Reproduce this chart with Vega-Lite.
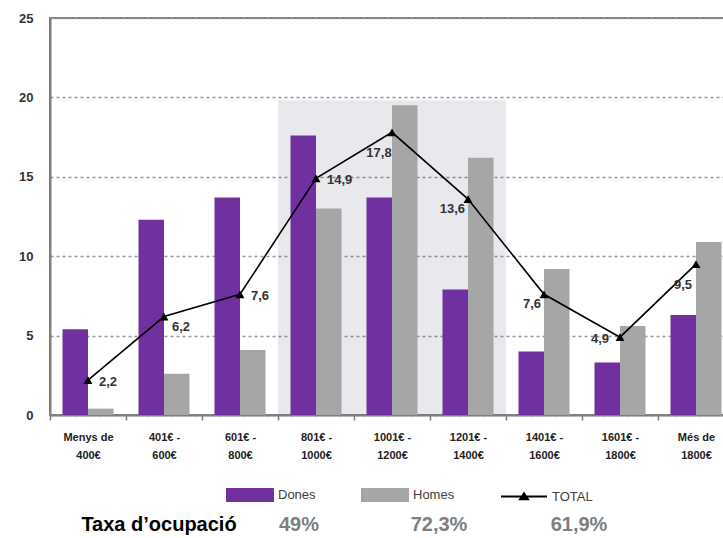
{
  "$schema": "https://vega.github.io/schema/vega-lite/v6.json",
  "width": 684,
  "height": 397,
  "autosize": {"type": "none"},
  "padding": {"left": 50, "top": 18, "right": 0, "bottom": 123},
  "background": "white",
  "config": {
    "locale": {"number": {"decimal": ",", "thousands": ".", "grouping": [3], "currency": ["", " €"]}},
    "view": {"stroke": "#7f7f7f", "strokeWidth": 2},
    "font": "Liberation Sans"
  },
  "datasets": {
    "inc": [
      {"cat": "Menys de 400€", "Dones": 5.4, "Homes": 0.4, "TOTAL": 2.2},
      {"cat": "401€ - 600€", "Dones": 12.3, "Homes": 2.6, "TOTAL": 6.2},
      {"cat": "601€ - 800€", "Dones": 13.7, "Homes": 4.1, "TOTAL": 7.6},
      {"cat": "801€ - 1000€", "Dones": 17.6, "Homes": 13.0, "TOTAL": 14.9},
      {"cat": "1001€ - 1200€", "Dones": 13.7, "Homes": 19.5, "TOTAL": 17.8},
      {"cat": "1201€ - 1400€", "Dones": 7.9, "Homes": 16.2, "TOTAL": 13.6},
      {"cat": "1401€ - 1600€", "Dones": 4.0, "Homes": 9.2, "TOTAL": 7.6},
      {"cat": "1601€ - 1800€", "Dones": 3.3, "Homes": 5.6, "TOTAL": 4.9},
      {"cat": "Més de 1800€", "Dones": 6.3, "Homes": 10.9, "TOTAL": 9.5}
    ],
    "taxa": [
      {"k": "label", "t": "Taxa d’ocupació"},
      {"k": "Dones", "t": "49%"},
      {"k": "Homes", "t": "72,3%"},
      {"k": "TOTAL", "t": "61,9%"}
    ]
  },
  "layer": [
    {
      "data": {"name": "inc"},
      "layer": [
        {
          "transform": [{"filter": {"field": "cat", "oneOf": ["801€ - 1000€", "1001€ - 1200€", "1201€ - 1400€"]}}],
          "mark": {"type": "bar", "color": "#3a3a5c", "opacity": 0.11},
          "encoding": {
            "x": {
              "field": "cat", "type": "nominal",
              "scale": {"domain": ["Menys de 400€", "401€ - 600€", "601€ - 800€", "801€ - 1000€", "1001€ - 1200€", "1201€ - 1400€", "1401€ - 1600€", "1601€ - 1800€", "Més de 1800€"], "paddingInner": 0, "paddingOuter": 0},
              "axis": {
                "title": null,
                "labelAngle": 0,
                "labelExpr": "!datum.label ? '' : datum.label == 'Menys de 400€' ? ['Menys de', '400€'] : datum.label == 'Més de 1800€' ? ['Més de', '1800€'] : indexof(datum.label, ' - ') < 0 ? '' : [split(datum.label, ' - ')[0] + ' -', split(datum.label, ' - ')[1]]",
                "labelFont": "Liberation Sans",
                "labelFontWeight": "bold",
                "labelFontSize": 11,
                "labelColor": "#222222",
                "labelLineHeight": 18,
                "labelPadding": 11,
                "tickBand": "extent",
                "tickSize": 5,
                "tickColor": "#7f7f7f",
                "tickWidth": 1.5,
                "domainColor": "#7f7f7f",
                "domainWidth": 2,
                "grid": false
              }
            },
            "y": {"datum": 19.8, "type": "quantitative"}
          }
        },
        {
          "transform": [{"fold": ["Dones", "Homes"], "as": ["series", "value"]}],
          "mark": {"type": "bar"},
          "encoding": {
            "x": {"field": "cat", "type": "nominal", "sort": null},
            "xOffset": {"field": "series", "type": "nominal", "scale": {"paddingInner": 0, "paddingOuter": 0.49}},
            "y": {
              "field": "value", "type": "quantitative",
              "scale": {"domain": [0, 25], "nice": false},
              "axis": {
                "title": null,
                "values": [0, 5, 10, 15, 20, 25],
                "grid": true,
                "labelFont": "Liberation Sans",
                "labelFontWeight": "bold",
                "labelFontSize": 13,
                "labelColor": "#333333",
                "labelPadding": 17,
                "ticks": false,
                "domainColor": "#7f7f7f",
                "domainWidth": 2,
                "gridColor": "#999999",
                "gridDash": [3, 3],
                "gridWidth": 1.6,
                "gridOpacity": 1
              }
            },
            "color": {
              "field": "series", "type": "nominal",
              "scale": {"domain": ["Dones", "Homes", "TOTAL"], "range": ["#7030a0", "#a6a6a6", "#000000"]},
              "legend": {
                "title": null,
                "orient": "none",
                "direction": "horizontal",
                "legendX": 176,
                "legendY": 453,
                "padding": 0,
                "labelFont": "Liberation Sans",
                "labelFontSize": 13,
                "labelColor": "#404040",
                "labelOffset": 4,
                "columnPadding": 42,
                "symbolSize": 2116,
                "symbolType": "M-1,-0.26H1V0.26H-1Z",
                "encode": {
                  "symbols": {
                    "update": {
                      "shape": {"signal": "datum.value === 'TOTAL' ? 'M-1,0H1M-0.17,0.12L0,-0.14L0.17,0.12Z' : 'M-1,-0.26H1V0.26H-1Z'"},
                      "fill": {"signal": "datum.value === 'TOTAL' ? '#000000' : (datum.value === 'Dones' ? '#7030a0' : '#a6a6a6')"},
                      "stroke": {"signal": "datum.value === 'TOTAL' ? '#000000' : 'transparent'"},
                      "strokeWidth": {"value": 2},
                      "opacity": {"value": 1},
                      "fillOpacity": {"value": 1},
                      "strokeOpacity": {"value": 1}
                    }
                  }
                }
              }
            }
          }
        },
        {
          "mark": {"type": "line", "strokeWidth": 1.6},
          "encoding": {
            "x": {"field": "cat", "type": "nominal", "sort": null},
            "y": {"field": "TOTAL", "type": "quantitative"},
            "color": {"datum": "TOTAL"}
          }
        },
        {
          "mark": {"type": "point", "shape": "triangle-up", "filled": true, "size": 80, "color": "#000000", "opacity": 1},
          "encoding": {
            "x": {"field": "cat", "type": "nominal", "sort": null},
            "y": {"field": "TOTAL", "type": "quantitative"}
          }
        },
        {
          "transform": [{"filter": {"field": "cat", "oneOf": ["Menys de 400€", "601€ - 800€", "801€ - 1000€"]}}],
          "mark": {"type": "text", "font": "Liberation Sans", "fontWeight": "bold", "fontSize": 13, "color": "#333333", "align": "left", "dx": 11, "dy": 2},
          "encoding": {
            "x": {"field": "cat", "type": "nominal", "sort": null},
            "y": {"field": "TOTAL", "type": "quantitative"},
            "text": {"field": "TOTAL", "type": "quantitative", "format": ".1f"}
          }
        },
        {
          "transform": [{"filter": {"field": "cat", "oneOf": ["401€ - 600€"]}}],
          "mark": {"type": "text", "font": "Liberation Sans", "fontWeight": "bold", "fontSize": 13, "color": "#333333", "align": "left", "dx": 8, "dy": 10},
          "encoding": {
            "x": {"field": "cat", "type": "nominal", "sort": null},
            "y": {"field": "TOTAL", "type": "quantitative"},
            "text": {"field": "TOTAL", "type": "quantitative", "format": ".1f"}
          }
        },
        {
          "transform": [{"filter": {"field": "cat", "oneOf": ["1001€ - 1200€", "Més de 1800€"]}}],
          "mark": {"type": "text", "font": "Liberation Sans", "fontWeight": "bold", "fontSize": 13, "color": "#333333", "align": "center", "dx": -13, "dy": 21},
          "encoding": {
            "x": {"field": "cat", "type": "nominal", "sort": null},
            "y": {"field": "TOTAL", "type": "quantitative"},
            "text": {"field": "TOTAL", "type": "quantitative", "format": ".1f"}
          }
        },
        {
          "transform": [{"filter": {"field": "cat", "oneOf": ["1201€ - 1400€", "1401€ - 1600€"]}}],
          "mark": {"type": "text", "font": "Liberation Sans", "fontWeight": "bold", "fontSize": 13, "color": "#333333", "align": "right", "dx": -3, "dy": 10},
          "encoding": {
            "x": {"field": "cat", "type": "nominal", "sort": null},
            "y": {"field": "TOTAL", "type": "quantitative"},
            "text": {"field": "TOTAL", "type": "quantitative", "format": ".1f"}
          }
        },
        {
          "transform": [{"filter": {"field": "cat", "oneOf": ["1601€ - 1800€"]}}],
          "mark": {"type": "text", "font": "Liberation Sans", "fontWeight": "bold", "fontSize": 13, "color": "#333333", "align": "right", "dx": -11, "dy": 2},
          "encoding": {
            "x": {"field": "cat", "type": "nominal", "sort": null},
            "y": {"field": "TOTAL", "type": "quantitative"},
            "text": {"field": "TOTAL", "type": "quantitative", "format": ".1f"}
          }
        }
      ]
    },
    {
      "data": {"name": "taxa"},
      "mark": {"type": "text", "font": "Liberation Sans", "fontWeight": "bold", "fontSize": 20, "baseline": "middle"},
      "encoding": {
        "x": {"field": "k", "type": "nominal", "sort": null, "axis": null, "scale": {"type": "point", "domain": ["label", "Dones", "Homes", "TOTAL"], "range": [109, 529], "padding": 0}},
        "y": {"datum": -6.9, "type": "quantitative"},
        "text": {"field": "t"},
        "color": {"condition": {"test": "datum.k === 'label'", "value": "#000000"}, "value": "#7f7f7f"}
      }
    }
  ],
  "resolve": {"scale": {"x": "independent"}}
}
